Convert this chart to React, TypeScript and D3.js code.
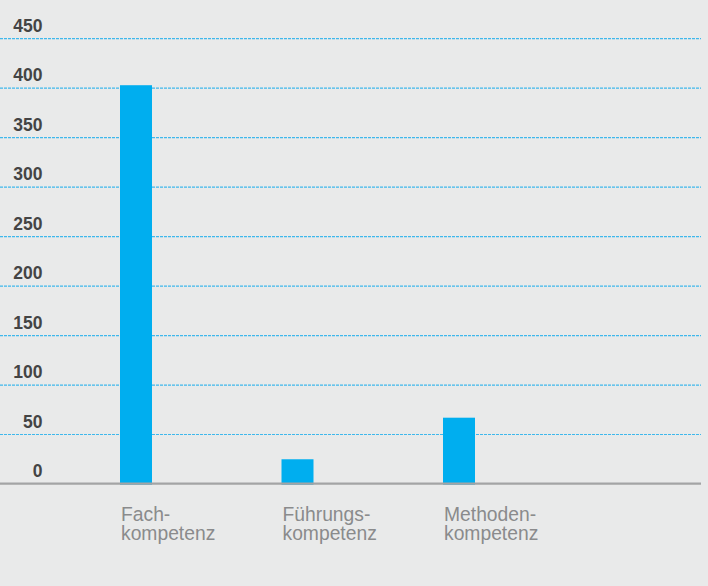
import React from "react";
import * as d3 from "d3";

const categories = ["Fach-\nkompetenz", "Führungs-\nkompetenz", "Methoden-\nkompetenz"];
const values = [403, 25, 67];
const yTicks = [0, 50, 100, 150, 200, 250, 300, 350, 400, 450];

const W = 708;
const H = 586;

export default function App() {
  const y = d3.scaleLinear().domain([0, 450]).range([484, 38.7]);
  const x = d3.scalePoint<string>().domain(categories).range([136, 459]);
  const bw = 32;
  return (
    <div style={{ position: "absolute", left: 0, top: 0, width: W, height: H, background: "#e9eaea" }}>
      <svg width={W} height={H} style={{ display: "block" }}>
        <rect x={0} y={0} width={W} height={H} fill="#e9eaea" />
        {yTicks.map((t) =>
          t === 0 ? null : (
            <line key={"g" + t} x1={0} x2={701} y1={y(t)} y2={y(t)} stroke="#3fb8ec" strokeWidth={1.2} strokeDasharray="3 1" />
          )
        )}
        {yTicks.map((t) => (
          <text
            key={"l" + t}
            x={42.5}
            y={y(t) - 7}
            textAnchor="end"
            fontFamily="Liberation Sans, Arial, sans-serif"
            fontWeight="bold"
            fontSize={17.5}
            fill="#444444"
          >
            {t}
          </text>
        ))}
        {categories.map((c, i) => (
          <rect key={"b" + i} x={(x(c) as number) - bw / 2} y={y(values[i])} width={bw} height={484.7 - y(values[i])} fill="#00aeef" />
        ))}
        <line x1={0} x2={701} y1={483.6} y2={483.6} stroke="#a3a4a5" strokeWidth={2.4} />
        {categories.map((c, i) => (
          <text
            key={"c" + i}
            x={(x(c) as number) - bw / 2 + 1}
            y={520.5}
            fontFamily="Liberation Sans, Arial, sans-serif"
            fontSize={19.3}
            fill="#8a8b8c"
          >
            {c.split("\n").map((line, j) => (
              <tspan key={j} x={(x(c) as number) - bw / 2 + 1} dy={j === 0 ? 0 : 19.5}>
                {line}
              </tspan>
            ))}
          </text>
        ))}
      </svg>
    </div>
  );
}
